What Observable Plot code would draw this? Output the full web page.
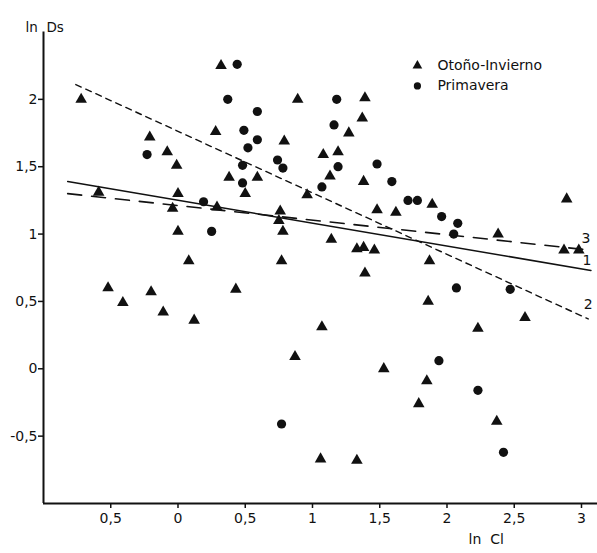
<!DOCTYPE html>
<html>
<head>
<meta charset="utf-8">
<script src="https://cdn.jsdelivr.net/npm/d3@7"></script>
<script src="https://cdn.jsdelivr.net/npm/@observablehq/plot@0.6"></script>
<style>
  html, body { margin: 0; padding: 0; background: #fff; }
</style>
</head>
<body>
<div id="chart"></div>
<script>
// Otoño-Invierno (triangles): ln Cl, ln Ds
const otonoX = [-0.72,-0.59,-0.52,-0.41,-0.21,-0.20,-0.11,-0.08,-0.01,0.00,-0.04,0.00,0.08,0.12,0.29,0.28,0.32,0.38,0.43,0.50,0.59,0.76,0.75,0.78,0.77,0.79,0.87,0.89,0.96,1.06,1.07,1.08,1.13,1.14,1.19,1.27,1.33,1.33,1.37,1.38,1.38,1.39,1.39,1.46,1.48,1.53,1.62,1.79,1.85,1.86,1.87,1.89,2.23,2.37,2.38,2.58,2.87,2.89,2.98];
const otonoY = [2.00,1.31,0.60,0.49,1.72,0.57,0.42,1.61,1.51,1.30,1.19,1.02,0.80,0.36,1.20,1.76,2.25,1.42,0.59,1.30,1.42,1.17,1.10,1.02,0.80,1.69,0.09,2.00,1.29,-0.67,0.31,1.59,1.43,0.96,1.61,1.75,0.89,-0.68,1.86,1.39,0.90,2.01,0.71,0.88,1.18,0.00,1.16,-0.26,-0.09,0.50,0.80,1.22,0.30,-0.39,1.00,0.38,0.88,1.26,0.88];
// Primavera (circles)
const primX = [-0.23,0.19,0.25,0.37,0.44,0.48,0.48,0.49,0.52,0.59,0.59,0.74,0.78,0.77,1.07,1.16,1.18,1.19,1.48,1.59,1.71,1.78,1.94,1.96,2.05,2.08,2.07,2.23,2.42,2.47];
const primY = [1.59,1.24,1.02,2.00,2.26,1.51,1.38,1.77,1.64,1.70,1.91,1.55,1.49,-0.41,1.35,1.81,2.00,1.50,1.52,1.39,1.25,1.25,0.06,1.13,1.00,1.08,0.60,-0.16,-0.62,0.59];

// Regression lines (endpoints)
const line1X = [-0.82, 3.07], line1Y = [1.39, 0.73];
const line2X = [-0.76, 3.05], line2Y = [2.11, 0.37];
const line3X = [-0.82, 3.07], line3Y = [1.30, 0.88];
const lineNames = ["1", "2", "3"];

// Ticks
const xTicks = [-0.5, 0, 0.5, 1, 1.5, 2, 2.5, 3];
const xTickLabels = ["0,5", "0", "0,5", "1", "1,5", "2", "2,5", "3"];
const yTicks = [-0.5, 0, 0.5, 1, 1.5, 2];
const yTickLabels = ["-0,5", "0", "0,5", "1", "1,5", "2"];

const legendLabels = ["Otoño-Invierno", "Primavera"];
const legendSymbols = ["triangle", "circle"];

const tri = otonoX.map((x, i) => ({x, y: otonoY[i]}));
const cir = primX.map((x, i) => ({x, y: primY[i]}));
const mk = (xs, ys) => xs.map((x, i) => ({x, y: ys[i]}));
const L1 = mk(line1X, line1Y), L2 = mk(line2X, line2Y), L3 = mk(line3X, line3Y);
const xFmt = new Map(xTicks.map((t, i) => [t, xTickLabels[i]]));
const yFmt = new Map(yTicks.map((t, i) => [t, yTickLabels[i]]));
const legendX = 1.78, legendY = [2.25, 2.10];
const legend = legendLabels.map((t, i) => ({t, s: legendSymbols[i], x: legendX, y: legendY[i]}));

const font = "DejaVu Sans";
const chart = Plot.plot({
  width: 597,
  height: 553,
  marginLeft: 43,
  marginRight: 0,
  marginTop: 31.5,
  marginBottom: 50,
  style: {fontFamily: font, fontSize: "13px", background: "#fff", color: "#111"},
  x: {domain: [-1, 3.119]},
  y: {domain: [-1, 2.5]},
  marks: [
    Plot.axisX({ticks: xTicks, tickFormat: d => xFmt.get(d), tickSize: 5, tickPadding: 5, label: null, strokeWidth: 1.5, fontSize: 14}),
    Plot.axisY({ticks: yTicks, tickFormat: d => yFmt.get(d), tickSize: 5, tickPadding: 1, label: null, strokeWidth: 1.5, fontSize: 14}),
    Plot.ruleX([-1], {strokeWidth: 2, stroke: "#111"}),
    Plot.ruleY([-1], {strokeWidth: 2, stroke: "#111"}),
    Plot.line(L1, {x: "x", y: "y", stroke: "#111", strokeWidth: 1.6}),
    Plot.line(L2, {x: "x", y: "y", stroke: "#111", strokeWidth: 1.4, strokeDasharray: "6,5"}),
    Plot.line(L3, {x: "x", y: "y", stroke: "#111", strokeWidth: 1.6, strokeDasharray: "14,10"}),
    Plot.dot(tri, {x: "x", y: "y", symbol: "triangle", r: 4.3, fill: "#111"}),
    Plot.dot(cir, {x: "x", y: "y", r: 4.6, fill: "#111"}),
    Plot.text([L1[1]], {x: "x", y: "y", text: [lineNames[0]], dx: -4, dy: -10, fontSize: 14, textAnchor: "middle"}),
    Plot.text([L2[1]], {x: "x", y: "y", text: [lineNames[1]], dx: 0, dy: -14, fontSize: 14, textAnchor: "middle"}),
    Plot.text([L3[1]], {x: "x", y: "y", text: [lineNames[2]], dx: -5, dy: -12, fontSize: 14, textAnchor: "middle"}),
    Plot.dot(legend, {x: "x", y: "y", symbol: "s", r: 3.6, fill: "#111"}),
    Plot.text(legend, {x: "x", y: "y", text: "t", dx: 20, textAnchor: "start", fontSize: 14, letterSpacing: "1.6px"}),
    Plot.text(["ln  Ds"], {frameAnchor: "top-left", dx: -18, dy: -10, textAnchor: "start", fontSize: 13.5}),
    Plot.text(["ln  Cl"], {frameAnchor: "bottom-left", dx: 425, dy: 40, textAnchor: "start", fontSize: 14, letterSpacing: "4px"})
  ]
});
document.getElementById("chart").appendChild(chart);
</script>
</body>
</html>
